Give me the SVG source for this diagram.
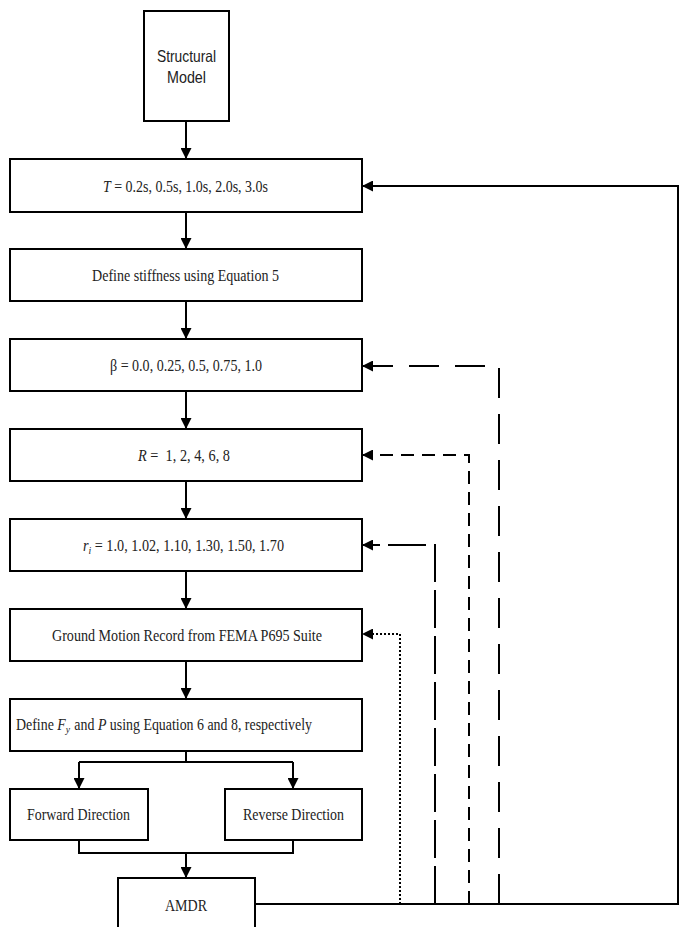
<svg xmlns="http://www.w3.org/2000/svg" width="679" height="927" viewBox="0 0 679 927">
<style>
.box{fill:#fff;stroke:#000;stroke-width:2}
.t{font-family:"Liberation Serif","Times New Roman",serif;font-size:16px;fill:#222;text-anchor:middle}
.s{font-family:"Liberation Sans",Arial,sans-serif;font-size:16.5px;fill:#222;text-anchor:middle}
.ln{fill:none;stroke:#000;stroke-width:2}
</style>
<defs>
<marker id="ah" viewBox="0 0 10 10" refX="10" refY="5" markerWidth="11" markerHeight="11" markerUnits="userSpaceOnUse" orient="auto">
<path d="M0,0 L10,5 L0,10 z" fill="#000"/>
</marker>
</defs>
<g id="connectors">
<path class="ln" d="M186,121 V159" marker-end="url(#ah)"/>
<path class="ln" d="M186,212 V249" marker-end="url(#ah)"/>
<path class="ln" d="M186,301 V339" marker-end="url(#ah)"/>
<path class="ln" d="M186,391 V429" marker-end="url(#ah)"/>
<path class="ln" d="M186,481 V519" marker-end="url(#ah)"/>
<path class="ln" d="M186,571 V609" marker-end="url(#ah)"/>
<path class="ln" d="M186,661 V699" marker-end="url(#ah)"/>
<path class="ln" d="M186,751 V762"/>
<path class="ln" d="M79,762 H293"/>
<path class="ln" d="M79,762 V789" marker-end="url(#ah)"/>
<path class="ln" d="M293,762 V789" marker-end="url(#ah)"/>
<path class="ln" d="M79,840 V853 H293 V840"/>
<path class="ln" d="M186,853 V878" marker-end="url(#ah)"/>
<path class="ln" d="M255,904 H679"/>
<path class="ln" d="M678,904 V186 H362" marker-end="url(#ah)"/>
<path class="ln" d="M499,904 V366 H362" stroke-dasharray="30,16" marker-end="url(#ah)"/>
<path class="ln" d="M469,904 V455 H362" stroke-dasharray="13,8" marker-end="url(#ah)"/>
<path class="ln" d="M435,904 V545 H362" stroke-dasharray="38,8" marker-end="url(#ah)"/>
<path class="ln" d="M400,904 V634 H362" stroke-dasharray="2,2" marker-end="url(#ah)"/>
</g>
<g id="structural-model">
<rect class="box" x="144" y="11" width="85" height="110"/>
<text class="s" x="186.5" y="62" textLength="59" lengthAdjust="spacingAndGlyphs">Structural</text>
<text class="s" x="186.5" y="83" textLength="39" lengthAdjust="spacingAndGlyphs">Model</text>
</g>
<g id="period">
<rect class="box" x="10" y="159" width="352" height="53"/>
<text class="t" x="185.5" y="192" textLength="165" lengthAdjust="spacingAndGlyphs"><tspan font-style="italic">T</tspan> = 0.2s, 0.5s, 1.0s, 2.0s, 3.0s</text>
</g>
<g id="stiffness">
<rect class="box" x="10" y="249" width="352" height="52"/>
<text class="t" x="185.5" y="281" textLength="187" lengthAdjust="spacingAndGlyphs">Define stiffness using Equation 5</text>
</g>
<g id="beta">
<rect class="box" x="10" y="339" width="352" height="52"/>
<text class="t" x="186" y="371" textLength="152" lengthAdjust="spacingAndGlyphs">β = 0.0, 0.25, 0.5, 0.75, 1.0</text>
</g>
<g id="r-factor">
<rect class="box" x="10" y="429" width="352" height="52"/>
<text class="t" x="184" y="461" xml:space="preserve" textLength="92" lengthAdjust="spacingAndGlyphs"><tspan font-style="italic">R</tspan> =  1, 2, 4, 6, 8</text>
</g>
<g id="ri">
<rect class="box" x="10" y="519" width="352" height="52"/>
<text class="t" x="183.5" y="551" textLength="201" lengthAdjust="spacingAndGlyphs"><tspan font-style="italic">r</tspan><tspan font-style="italic" font-size="11" dy="3">i</tspan><tspan dy="-3"> = 1.0, 1.02, 1.10, 1.30, 1.50, 1.70</tspan></text>
</g>
<g id="ground-motion">
<rect class="box" x="10" y="609" width="352" height="52"/>
<text class="t" x="187" y="641" textLength="270" lengthAdjust="spacingAndGlyphs">Ground Motion Record from FEMA P695 Suite</text>
</g>
<g id="define-fy">
<rect class="box" x="10" y="699" width="352" height="52"/>
<text class="t" x="16" y="730" style="text-anchor:start" textLength="296" lengthAdjust="spacingAndGlyphs">Define <tspan font-style="italic">F</tspan><tspan font-style="italic" font-size="11" dy="3">y</tspan><tspan dy="-3" dx="1"> and </tspan><tspan font-style="italic">P</tspan> using Equation 6 and 8, respectively</text>
</g>
<g id="forward">
<rect class="box" x="10" y="789" width="138" height="51"/>
<text class="t" x="78.5" y="820" textLength="103" lengthAdjust="spacingAndGlyphs">Forward Direction</text>
</g>
<g id="reverse">
<rect class="box" x="225" y="789" width="137" height="51"/>
<text class="t" x="293.5" y="820" textLength="101" lengthAdjust="spacingAndGlyphs">Reverse Direction</text>
</g>
<g id="amdr">
<rect class="box" x="118" y="878" width="137" height="60"/>
<text class="t" x="186" y="911" textLength="42" lengthAdjust="spacingAndGlyphs">AMDR</text>
</g>
</svg>
